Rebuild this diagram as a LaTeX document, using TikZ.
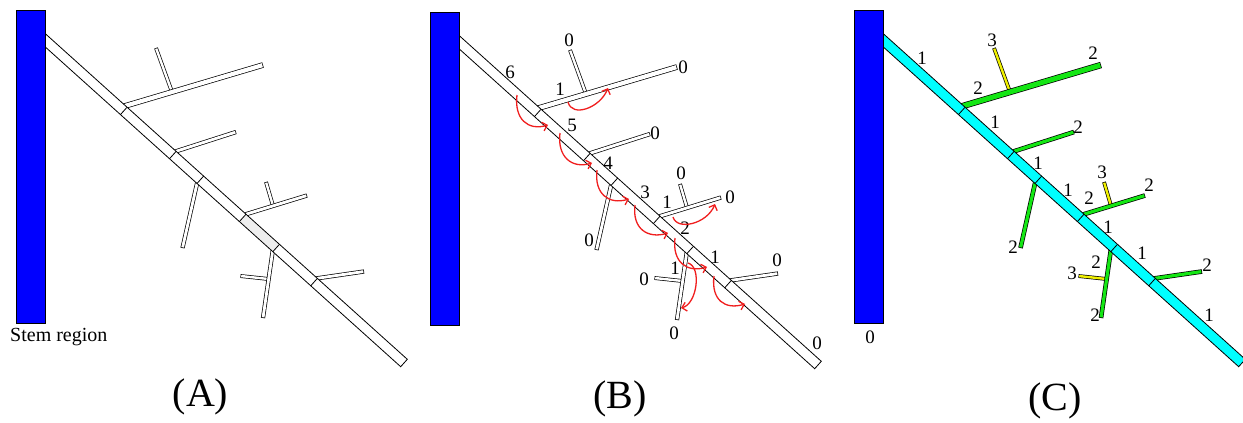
\documentclass[tikz,border=0pt]{standalone}
\usepackage{fontspec}
\setmainfont{Liberation Serif}
\usetikzlibrary{calc,arrows.meta}
\definecolor{barblue}{RGB}{0,0,255}
\definecolor{maincyan}{RGB}{0,255,255}
\definecolor{latgreen}{RGB}{20,230,20}
\definecolor{subyellow}{RGB}{240,240,0}
\definecolor{segred}{RGB}{240,30,30}
\definecolor{seggrey}{RGB}{238,238,238}
% limb: start, end, width, fill, backoff
\newcommand\limb[5]{%
  \draw[line width=#3pt+1.4pt] ($(#1)!-#5pt!(#2)$) -- (#2);
  \draw[line width=#3pt, draw=#4, shorten >=0.7pt] ($(#1)!-#5pt!(#2)$) -- (#2);
}
% treepanel: mainfill, latfill, subfill, lat1 width, lat width, sub width, extra
\newcommand\treepanel[7]{%
  \coordinate (p1) at (126.5,105.5); \coordinate (q1) at (263,65);
  \coordinate (p2) at (176,151.3);   \coordinate (q2) at (236,132);
  \coordinate (p3) at (197,183.5);   \coordinate (q3) at (182.5,248);
  \coordinate (p4) at (246,214.2);   \coordinate (q4) at (307,195.5);
  \coordinate (p5) at (272.6,251.6); \coordinate (q5) at (263,318);
  \coordinate (p6) at (317.2,278.3); \coordinate (q6) at (364,271.5);
  \coordinate (r1) at (172,92);      \coordinate (u1) at (156,48);
  \coordinate (r4) at (273,205.8);   \coordinate (u4) at (266,182);
  \coordinate (r5) at (268.6,279);   \coordinate (u5) at (240.5,276);
  \limb{r1}{u1}{#6}{#3}{1.5}
  \limb{r4}{u4}{#6}{#3}{1.5}
  \limb{r5}{u5}{#6}{#3}{1.5}
  \limb{p1}{q1}{#4}{#2}{8}
  \limb{p2}{q2}{#5}{#2}{8}
  \limb{p3}{q3}{#5}{#2}{8}
  \limb{p4}{q4}{#5}{#2}{8}
  \limb{p5}{q5}{#5}{#2}{8}
  \limb{p6}{q6}{#5}{#2}{8}
  \coordinate (m1) at (45,33.4);  \coordinate (m2) at (407.3,359.3);
  \coordinate (m3) at (400.7,366.7); \coordinate (m4) at (45,46.7);
  \fill[#1] (m1) -- (m2) -- (m3) -- (m4) -- cycle;
  #7
  \draw[line width=0.8pt] (m1) -- (m2) -- (m3) -- (m4);
  \foreach \a/\b/\c/\d in {127.13/107.16/120.45/114.60, 176.19/151.30/169.51/158.74,
     203.69/176.04/197.01/183.48, 246.06/214.15/239.38/221.59,
     279.51/244.25/272.83/251.69, 317.41/278.35/310.73/285.79}
    \draw[line width=0.8pt] (\a,\b) -- (\c,\d);
  \draw[fill=barblue, line width=0.6pt] (16,10) rectangle (45,323);
}
\begin{document}
\begin{tikzpicture}[x=1pt,y=-1pt,
  lbl/.style={font=\fontsize{19}{19}\selectfont, inner sep=0pt},
  ttl/.style={font=\fontsize{40}{40}\selectfont, inner sep=0pt},
  redarr/.style={draw=segred, line width=1.3pt, -{Straight Barb[length=4.5pt,width=9pt]}}]
\useasboundingbox (0,0) rectangle (1243,423);

% ---------- Panel A ----------
\begin{scope}
\treepanel{white}{white}{white}{4.2}{2.8}{2.4}{%
  \fill[seggrey] (246.06,214.15) -- (279.51,244.25) -- (272.83,251.69) -- (239.38,221.59) -- cycle;}
\end{scope}
\node[font=\fontsize{20}{20}\selectfont, inner sep=0pt, anchor=base west] (stem) at (10,341.5) {Stem region};
\node[ttl, anchor=base] (ta) at (200.5,406.5) {(A)};

% ---------- Panel B ----------
\begin{scope}[shift={(414,2)}]
\treepanel{white}{white}{white}{4.2}{2.8}{2.4}{}
\end{scope}
\node[ttl, anchor=base] (tb) at (620,408) {(B)};
% main branch labels
\node[lbl] (b6) at (510,72) {6};
\node[lbl] (b5) at (572,125) {5};
\node[lbl] (b4) at (608,163) {4};
\node[lbl] (b3) at (645,192) {3};
\node[lbl] (b2) at (685,228) {2};
\node[lbl] (b1) at (715,257) {1};
\node[lbl] (b0) at (817,343) {0};
% lateral labels
\node[lbl] (bl1) at (560,89) {1};
\node[lbl] (bl1e) at (683,67) {0};
\node[lbl] (bs1) at (569,40) {0};
\node[lbl] (bl2e) at (655,133) {0};
\node[lbl] (bl3e) at (589,240) {0};
\node[lbl] (bl4) at (667,202) {1};
\node[lbl] (bl4e) at (730,197) {0};
\node[lbl] (bs4) at (681,173) {0};
\node[lbl] (bl5) at (675,268) {1};
\node[lbl] (bl5e) at (674,333) {0};
\node[lbl] (bs5) at (644,279) {0};
\node[lbl] (bl6e) at (777,260) {0};
% red arrows
\draw[redarr] (517,95) .. controls +(-3,24) and +(-20,6) .. (548,125);
\draw[redarr] (560,133) .. controls +(-3,24) and +(-20,6) .. (592,163);
\draw[redarr] (597,170) .. controls +(-3,24) and +(-20,6) .. (629,199);
\draw[redarr] (635,205) .. controls +(-3,24) and +(-20,6) .. (668,233);
\draw[redarr] (675,238) .. controls +(-3,24) and +(-20,6) .. (707,267);
\draw[redarr] (714,276) .. controls +(-3,24) and +(-20,6) .. (745,304);
\draw[redarr] (568,102) .. controls +(4,16) and +(-8,20) .. (608,88);
\draw[redarr] (673,217) .. controls +(4,14) and +(-8,20) .. (715,204);
\draw[redarr] (688,263) .. controls +(14,4) and +(16,-4) .. (681,308);

% ---------- Panel C ----------
\begin{scope}[shift={(838,0)}]
\treepanel{maincyan}{latgreen}{subyellow}{5}{3.2}{2.4}{}
\end{scope}
\node[ttl, anchor=base] (tc) at (1055,410.5) {(C)};
\node[lbl] (c0) at (870,337) {0};
\node[lbl] (cm1) at (922,58) {1};
\node[lbl] (cm2) at (995,122) {1};
\node[lbl] (cm3) at (1038,163) {1};
\node[lbl] (cm4) at (1068,190) {1};
\node[lbl] (cm5) at (1108,227) {1};
\node[lbl] (cm6) at (1142,253) {1};
\node[lbl] (cm7) at (1209,315) {1};
\node[lbl] (cl1) at (978,88) {2};
\node[lbl] (cl1e) at (1093,53) {2};
\node[lbl] (cs1) at (992,40) {3};
\node[lbl] (cl2e) at (1078,127) {2};
\node[lbl] (cl3e) at (1013,247) {2};
\node[lbl] (cl4) at (1089,198) {2};
\node[lbl] (cl4e) at (1149,185) {2};
\node[lbl] (cs4) at (1102,172) {3};
\node[lbl] (cl5) at (1096,262) {2};
\node[lbl] (cl5e) at (1095,315) {2};
\node[lbl] (cs5) at (1072,273) {3};
\node[lbl] (cl6e) at (1207,265) {2};
\end{tikzpicture}
\end{document}
